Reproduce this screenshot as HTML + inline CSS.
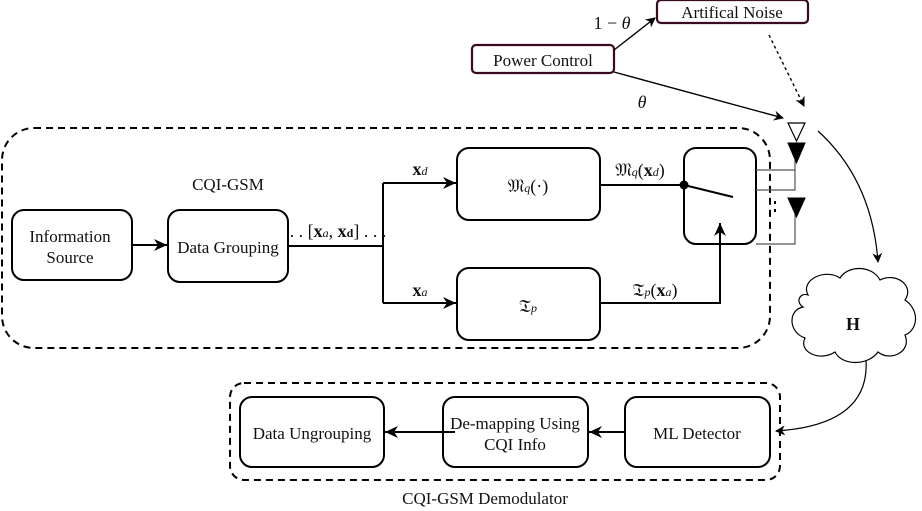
<!DOCTYPE html>
<html><head><meta charset="utf-8"><style>
html,body{margin:0;padding:0;background:#fff}
svg{display:block}
text{font-family:"Liberation Serif",serif;fill:#111}
</style></head><body>
<svg width="922" height="511" viewBox="0 0 922 511" xmlns="http://www.w3.org/2000/svg">
<defs>
<marker id="a" markerWidth="10" markerHeight="10" refX="9" refY="5" orient="auto" markerUnits="userSpaceOnUse"><path d="M0,0 L10,5 L0,10 L3,5 Z" fill="#000"/></marker>
<marker id="b" markerWidth="14" markerHeight="14" refX="13" refY="7" orient="auto" markerUnits="userSpaceOnUse"><path d="M0,1 L13,7 L0,13 L4,7 Z" fill="#000"/></marker>
</defs>
<g fill="none" stroke="#000">
<rect x="2" y="128" width="768" height="220" rx="32" stroke-width="2" stroke-dasharray="7,5"/>
<rect x="230" y="383" width="550" height="97" rx="14" stroke-width="2" stroke-dasharray="7,5"/>
<g stroke-width="2">
<rect x="12" y="210" width="120" height="70" rx="12"/>
<rect x="168" y="210" width="120" height="72" rx="12"/>
<rect x="457" y="148" width="143" height="72" rx="12"/>
<rect x="457" y="268" width="143" height="72" rx="12"/>
<rect x="684" y="148" width="72" height="96" rx="12"/>
<rect x="240" y="397" width="144" height="70" rx="12"/>
<rect x="443" y="397" width="145" height="70" rx="12"/>
<rect x="625" y="397" width="145" height="70" rx="12"/>
<line x1="132" y1="245" x2="167" y2="245" marker-end="url(#b)"/>
<polyline points="288,246 383,246"/>
<polyline points="383,183 383,303"/>
<line x1="383" y1="183" x2="456" y2="183" marker-end="url(#b)"/>
<line x1="383" y1="303" x2="456" y2="303" marker-end="url(#b)"/>
<line x1="600" y1="185" x2="684" y2="185"/>
<line x1="684" y1="185" x2="733" y2="197"/>
<polyline points="600,303 720,303 720,223" marker-end="url(#b)"/>
<line x1="455" y1="432" x2="385" y2="432" marker-end="url(#b)"/>
<line x1="625" y1="432" x2="589" y2="432" marker-end="url(#b)"/>
</g>
<circle cx="684" cy="185" r="4" fill="#000"/>
<g stroke="#555" stroke-width="1.2">
<polyline points="756,170 795,170 795,160"/>
<polyline points="756,190 795,190 795,170"/>
<polyline points="756,244 795,244 795,214"/>
</g>
<line x1="775" y1="201" x2="775" y2="204" stroke-width="2"/>
<line x1="775" y1="209" x2="775" y2="212" stroke-width="2"/>
<path d="M788,123 L805,123 L796.5,141 Z" stroke-width="1.2"/>
<path d="M788,143 L805,143 L796.5,163 Z" fill="#000"/>
<path d="M788,198 L805,198 L796.5,217 Z" fill="#000"/>
<rect x="472" y="45" width="142" height="28" rx="4" stroke="#3a0a22" stroke-width="2.2"/>
<rect x="657" y="0" width="151" height="23" rx="4" stroke="#3a0a22" stroke-width="2.2"/>
<line x1="614" y1="50" x2="655" y2="18" stroke-width="1.4" marker-end="url(#a)"/>
<line x1="614" y1="72" x2="783" y2="118" stroke-width="1.4" marker-end="url(#a)"/>
<line x1="769" y1="35" x2="804" y2="106" stroke-width="1.4" stroke-dasharray="3,3" marker-end="url(#a)"/>
<path d="M818,131 Q872,180 878,262" stroke-width="1.2" marker-end="url(#a)"/>
<path d="M866,360 Q870,425 776,431" stroke-width="1.2" marker-end="url(#a)"/>
<path d="M808,295 C800,280 825,268 840,278 C848,265 872,265 880,280 C895,272 915,285 905,300 C920,310 918,330 905,335 C912,352 890,362 878,352 C868,366 842,366 835,352 C820,362 798,352 805,338 C788,332 788,310 803,307 C795,302 800,292 808,295 Z" stroke-width="1.2"/>
</g>
<g font-size="17" text-anchor="middle">
<text x="70" y="242">Information</text>
<text x="70" y="263">Source</text>
<text x="228" y="253">Data Grouping</text>
<text x="228" y="190">CQI-GSM</text>
<text x="543" y="66">Power Control</text>
<text x="732" y="18">Artifical Noise</text>
<text x="312" y="439">Data Ungrouping</text>
<text x="515" y="429">De-mapping Using</text>
<text x="515" y="450">CQI Info</text>
<text x="697" y="439">ML Detector</text>
<text x="485" y="504">CQI-GSM Demodulator</text>
</g>
<g font-size="18" text-anchor="middle">
<text x="338" y="237">. . [<tspan font-weight="bold">x</tspan><tspan font-size="12" font-style="italic">a</tspan>, <tspan font-weight="bold">x</tspan><tspan font-size="12" font-weight="bold">d</tspan>] . . .</text>
<text x="420" y="175"><tspan font-weight="bold">x</tspan><tspan font-size="12" font-style="italic">d</tspan></text>
<text x="420" y="296"><tspan font-weight="bold">x</tspan><tspan font-size="12" font-style="italic">a</tspan></text>
<text x="528" y="192">𝔐<tspan font-size="12" font-style="italic">q</tspan>(·)</text>
<text x="528" y="312">𝔗<tspan font-size="12" font-style="italic">p</tspan></text>
<text x="640" y="176">𝔐<tspan font-size="12" font-style="italic">q</tspan>(<tspan font-weight="bold">x</tspan><tspan font-size="12" font-style="italic">d</tspan>)</text>
<text x="655" y="296">𝔗<tspan font-size="12" font-style="italic">p</tspan>(<tspan font-weight="bold">x</tspan><tspan font-size="12" font-style="italic">a</tspan>)</text>
<text x="612" y="29">1 − <tspan font-style="italic">θ</tspan></text>
<text x="642" y="108" font-style="italic">θ</text>
<text x="853" y="330" font-weight="bold">H</text>
</g>
</svg>
</body></html>
